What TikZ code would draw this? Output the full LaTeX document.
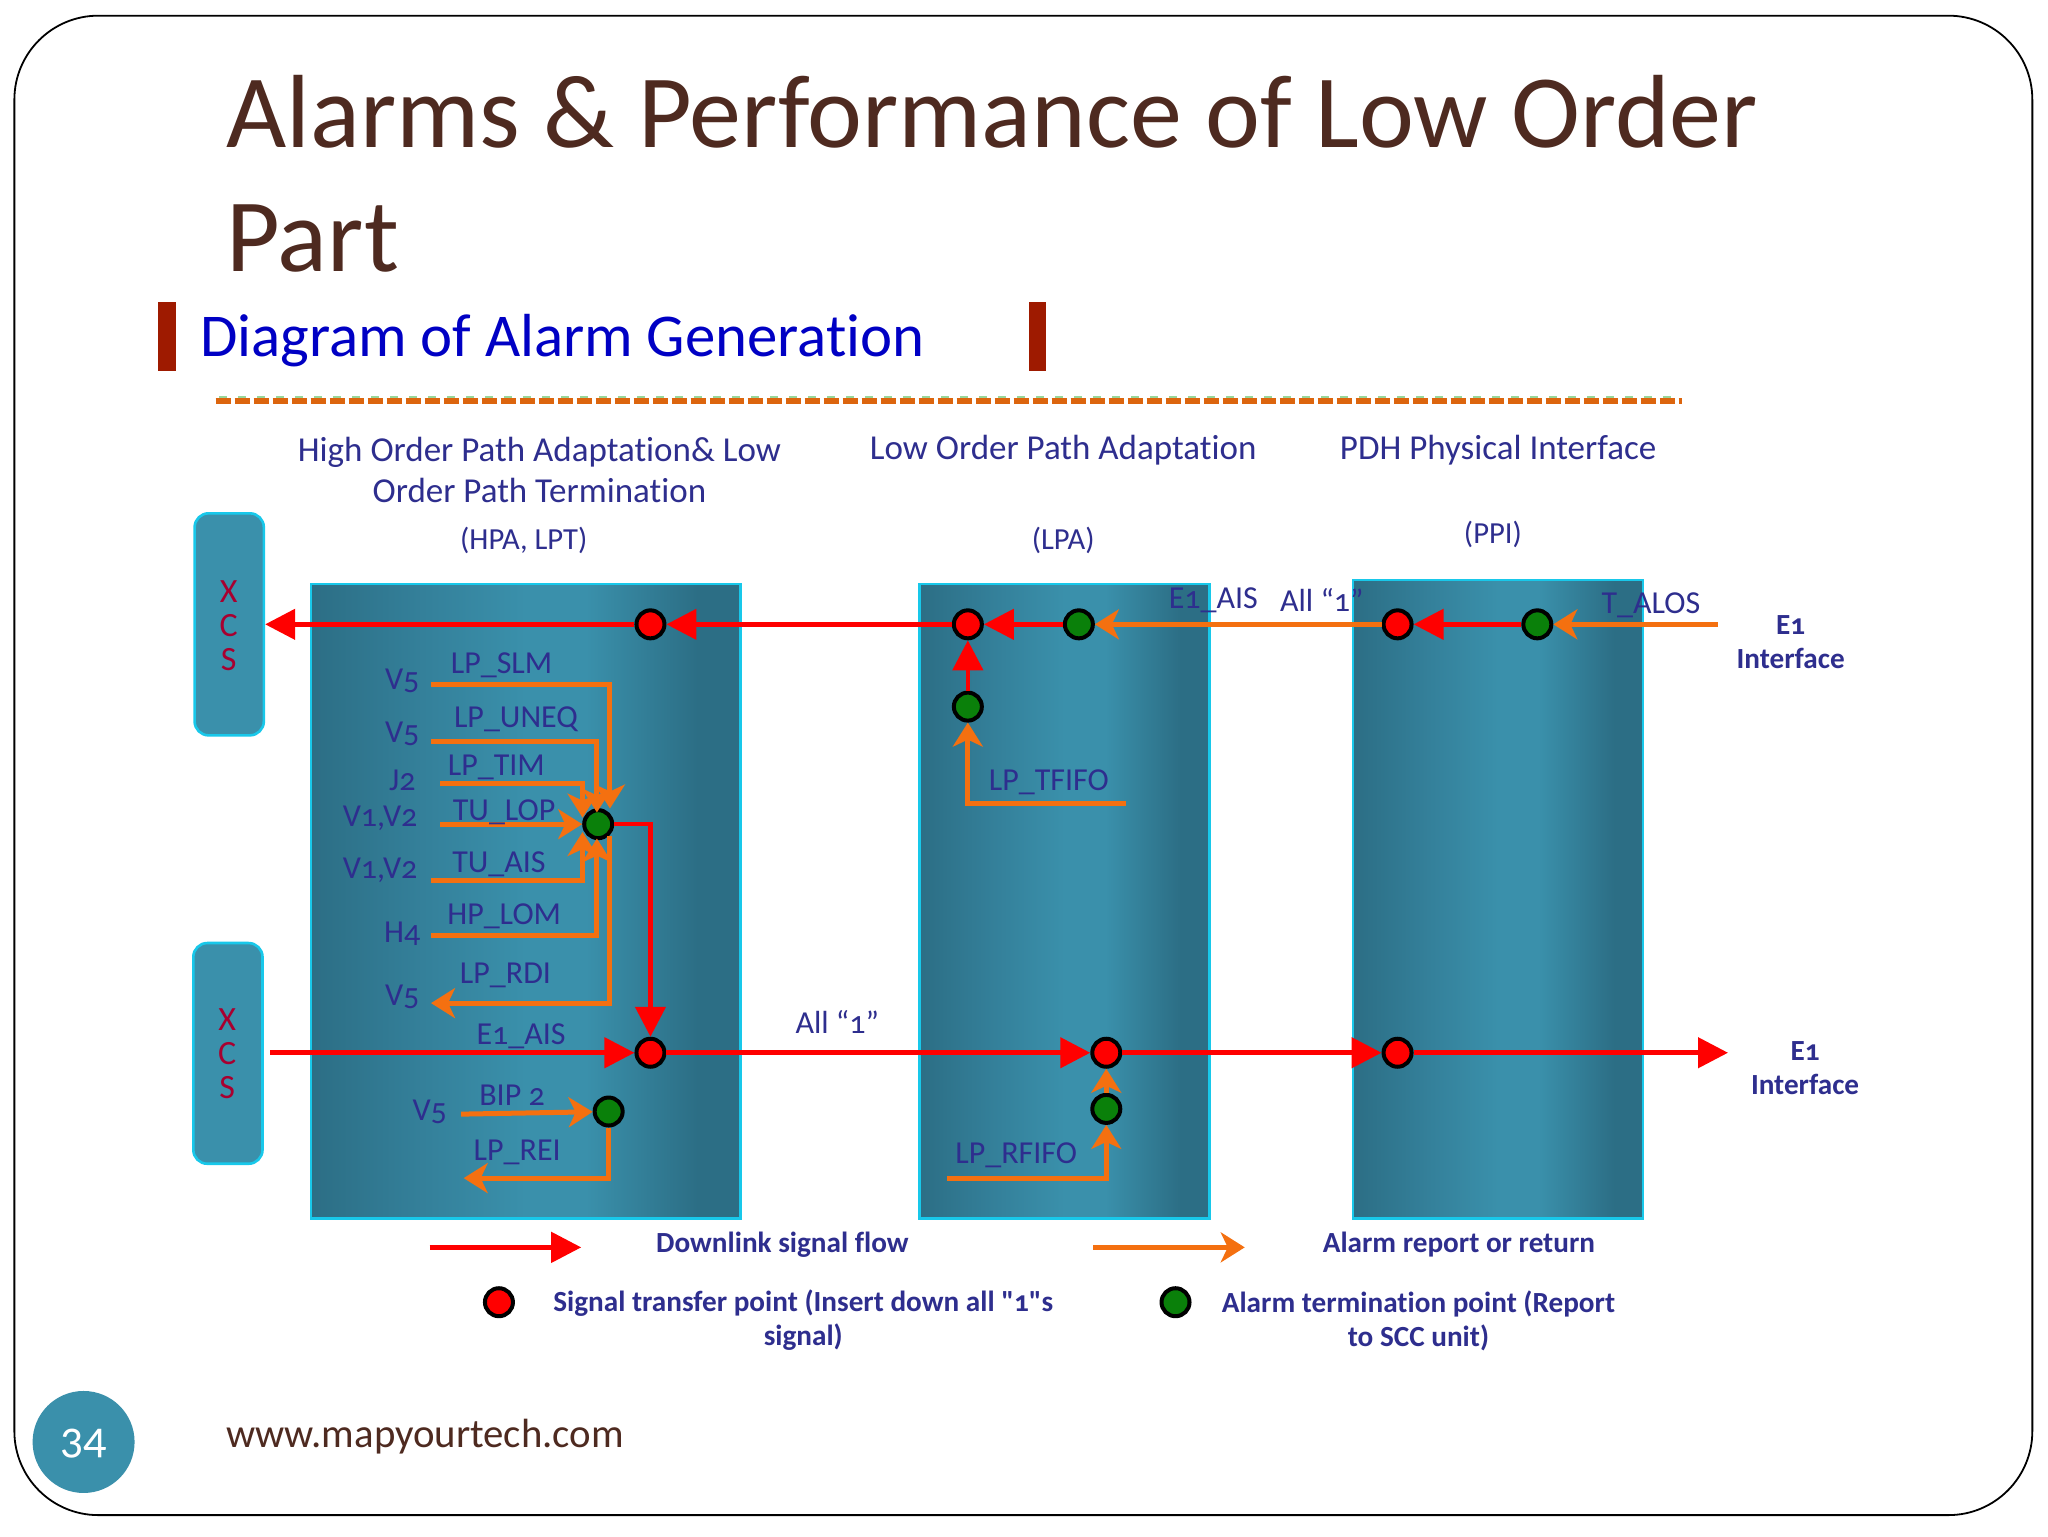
\documentclass[tikz,border=0pt]{standalone}
\usepackage{fontspec}
\setmainfont[Numbers=OldStyle,Ligatures=NoCommon]{Carlito}
\newfontfamily\plainface[Numbers=OldStyle,Ligatures=NoCommon]{Carlito}
\usetikzlibrary{
  arrows.meta,
  shapes.geometric,
}
\definecolor{titlebrown}{HTML}{4E2A20}
\definecolor{labelblue}{HTML}{2E2E8E}
\definecolor{headblue}{HTML}{0000C4}
\definecolor{bardark}{HTML}{9E1A00}
\definecolor{paneldark}{HTML}{2C6E85}
\definecolor{panelmid}{HTML}{34809A}
\definecolor{panellight}{HTML}{3A90AB}
\definecolor{paneledge}{HTML}{18C8EA}
\definecolor{xcsred}{HTML}{A80030}
\definecolor{alarmorange}{HTML}{F47010}
\definecolor{dotgreen}{HTML}{0A800A}
\pgfdeclarehorizontalshading{panelfade}{100bp}{
  color(0bp)=(paneldark); color(25bp)=(paneldark); color(38bp)=(panelmid); color(50bp)=(panellight);
  color(57bp)=(panellight); color(70bp)=(paneldark); color(75bp)=(paneldark); color(100bp)=(paneldark)}
\tikzset{
  panel/.style={draw=paneledge,line width=1.3pt,shade,shading=panelfade},
  xcsbox/.style={fill=panellight,draw=paneledge,line width=1.3pt,rounded corners=7pt},
  xcstext/.style={text=xcsred,align=center,font=\fontsize{17}{17}\selectfont},
  dot/.style={circle,draw=black,line width=2pt,minimum size=14pt,inner sep=0pt},
  reddot/.style={dot,fill=red},
  greendot/.style={dot,fill=dotgreen},
  sigline/.style={draw=red,line width=2.3pt,-{Triangle[length=15pt,width=15pt]}},
  alarmline/.style={draw=alarmorange,line width=2.5pt,-{Stealth[length=12pt,width=15pt,inset=3.5pt]}},
  lab/.style={text=labelblue,yshift=-1pt,font=\fontsize{16}{16}\selectfont},
  headlab/.style={text=labelblue,align=center,font=\fontsize{17.5}{20.3}\selectfont},
  sublab/.style={text=labelblue,font=\fontsize{15.3}{16}\selectfont},
  boldlab/.style={text=labelblue,align=center,font=\fontsize{14.6}{17}\selectfont\bfseries},
}
\begin{document}
\begin{tikzpicture}[x=0.65306pt,y=-0.65306pt]
\useasboundingbox (0,0) rectangle (1568,1176);
\fill[white] (0,0) rectangle (1568,1176);
\draw[black,line width=0.9pt,rounded corners=42pt] (11,12) rectangle (1556,1160);

% title
\node[anchor=base west,text=titlebrown,font=\fontsize{52}{52}\selectfont,inner sep=0pt] (titleA) at (173,113) {Alarms \& Performance of Low Order};
\node[anchor=base west,text=titlebrown,font=\fontsize{52}{52}\selectfont,inner sep=0pt] (titleB) at (173,208) {Part};
\fill[bardark] (121,231) rectangle (135,284);
\fill[bardark] (788,231) rectangle (801,284);
\node[anchor=base west,text=headblue,font=\fontsize{30.4}{30.4}\selectfont,inner sep=0pt] (subtitle) at (153,273) {Diagram of Alarm Generation};

% dashed bar
\draw[alarmorange!90!black,line width=2.6pt,dash pattern=on 7.5pt off 2pt] (165,307) -- (1288,307);
\draw[green!60!black!40,line width=1pt,dash pattern=on 4pt off 5.5pt] (168,304) -- (1288,304);

% headers
\node[headlab] (hpaHead) at (413,360) {High Order Path Adaptation\& Low\\Order Path Termination};
\node[headlab] (lpaHead) at (814,345) {Low Order Path Adaptation};
\node[headlab] (ppiHead) at (1147,345) {PDH Physical Interface};
\node[sublab] (hpaSub) at (401,414) {(HPA, LPT)};
\node[sublab] (lpaSub) at (814,414) {(LPA)};
\node[sublab] (ppiSub) at (1143,409) {(PPI)};

% panels
\path[panel] (238,447) rectangle (567,933);
\path[panel] (704,447) rectangle (926,933);
\path[panel] (1036,444) rectangle (1258,933);
\path[xcsbox] (149,393) rectangle (202,563);
\path[xcsbox] (148,722) rectangle (201,891);
\node[xcstext] (xcsA) at (175,479) {X\\C\\S};
\node[xcstext] (xcsB) at (174,807) {X\\C\\S};
\coordinate (xcsTip) at (203,478);

% points
\node[reddot] (outA) at (498,478) {};
\node[greendot] (alarmHpa) at (458,631) {};
\node[reddot] (outB) at (498,806) {};
\node[greendot] (alarmBip) at (466,851) {};
\node[reddot] (lpaA) at (741,478) {};
\node[greendot] (lpaB) at (826,478) {};
\node[greendot] (lpaC) at (741,541) {};
\node[reddot] (lpaD) at (847,806) {};
\node[greendot] (lpaE) at (847,849) {};
\node[reddot] (ppiA) at (1070,478) {};
\node[greendot] (ppiB) at (1177,478) {};
\node[reddot] (ppiC) at (1070,806) {};

% free ends
\coordinate (e1In) at (1315,478);
\coordinate (e1Out) at (1323,806);
\coordinate (xcsOut) at (207,806);
\coordinate (turn) at (498,631);
\coordinate (slmIn) at (330,524);
\coordinate (slmTip) at (467,619);
\coordinate (uneqIn) at (330,568);
\coordinate (uneqTip) at (457,622);
\coordinate (timIn) at (337,600);
\coordinate (timTip) at (446,626);
\coordinate (lopIn) at (337,631);
\coordinate (aisIn) at (330,674);
\coordinate (aisTip) at (446,637);
\coordinate (lomIn) at (330,716);
\coordinate (lomTip) at (457,642);
\coordinate (rdiFrom) at (467,640);
\coordinate (rdiOut) at (330,768);
\coordinate (bipIn) at (353,853);
\coordinate (reiOut) at (355,902);
\coordinate (tfifoIn) at (862,615);
\coordinate (rfifoIn) at (725,902);

% downlink flow
\draw[sigline] (outA) -- (xcsTip);
\draw[sigline] (lpaA) -- (outA);
\draw[sigline] (lpaB) -- (lpaA);
\draw[sigline] (lpaC) -- (lpaA);
\draw[sigline] (ppiB) -- (ppiA);
\draw[sigline] (xcsOut) -- (outB);
\draw[sigline] (outB) -- (lpaD);
\draw[sigline] (lpaD) -- (ppiC);
\draw[sigline] (ppiC) -- (e1Out);
\draw[sigline] (alarmHpa) -- (turn) -- (outB);

% alarm report
\draw[alarmline] (e1In) -- (ppiB);
\draw[alarmline] (ppiA) -- (lpaB);
\draw[alarmline] (slmIn) -| (slmTip);
\draw[alarmline] (uneqIn) -| (uneqTip);
\draw[alarmline] (timIn) -| (timTip);
\draw[alarmline] (lopIn) -- (alarmHpa);
\draw[alarmline] (aisIn) -| (aisTip);
\draw[alarmline] (lomIn) -| (lomTip);
\draw[alarmline] (rdiFrom) |- (rdiOut);
\draw[alarmline] (bipIn) -- (alarmBip);
\draw[alarmline] (alarmBip) |- (reiOut);
\draw[alarmline] (tfifoIn) -| (lpaC);
\draw[alarmline] (rfifoIn) -| (lpaE);
\draw[alarmline] (lpaE) -- (lpaD);

% labels
\foreach \name/\txt/\px/\py in {
  slmLab/LP\_SLM/384/508, uneqLab/LP\_UNEQ/395/549, timLab/LP\_TIM/380/586,
  lopLab/TU\_LOP/386/620, tuaisLab/TU\_AIS/382/660, lomLab/HP\_LOM/386/700,
  rdiLab/LP\_RDI/387/745, aisLab/E1\_AIS/399/792, bipLab/BIP 2/392/837,
  reiLab/LP\_REI/396/881, tfifoLab/LP\_TFIFO/803/597, rfifoLab/LP\_RFIFO/778/883,
  lpaAis/E1\_AIS/929/458, almLab/T\_ALOS/1264/462,
  vA/V5/308/520, vB/V5/308/560, jA/J2/308/596, vC/{V1,V2}/291/625,
  vD/{V1,V2}/291/665, hA/H4/308/713, vE/V5/308/762, vF/V5/329/850}
  \node[lab] (\name) at (\px,\py) {\txt};
\node[lab] (allA) at (1012,458) {All “1”};
\node[lab] (allB) at (641,781) {All “1”};

\node[boldlab] (ifA) at (1371,492) {E1\\Interface};
\node[boldlab] (ifB) at (1382,818) {E1\\Interface};

% legend
\coordinate (keyRedA) at (329,955);
\coordinate (keyRedB) at (445,955);
\coordinate (keyOrgA) at (837,955);
\coordinate (keyOrgB) at (953,955);
\draw[sigline] (keyRedA) -- (keyRedB);
\draw[alarmline] (keyOrgA) -- (keyOrgB);
\node[boldlab] (keyFlow) at (599,953) {Downlink signal flow};
\node[boldlab] (keyReport) at (1117,953) {Alarm report or return};
\node[reddot] (keyRed) at (382,997) {};
\node[greendot] (keyGreen) at (900,997) {};
\node[boldlab,font=\fontsize{14.6}{17}\plainface\bfseries] (keyPoint) at (615,1011) {Signal transfer point (Insert down all "1"s\\signal)};
\node[boldlab] (keyTerm) at (1086,1011) {Alarm termination point (Report\\to SCC unit)};

% footer
\node[circle,fill=panellight,minimum size=51pt,inner sep=0pt,text=white,font=\fontsize{23}{23}\selectfont] (pageNo) at (64,1104) {\raisebox{0pt}[12pt][0pt]{34}};
\node[anchor=base west,text=titlebrown,font=\fontsize{20.4}{20.4}\selectfont,inner sep=0pt] (site) at (173,1108) {www.mapyourtech.com};
\end{tikzpicture}
\end{document}
